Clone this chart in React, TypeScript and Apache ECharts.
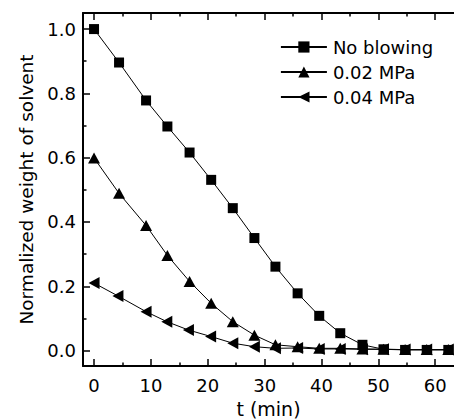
import React, { useEffect, useRef } from "react";
import * as echarts from "echarts";

const tNoBlow = [0, 4.4, 9.15, 12.9, 16.8, 20.6, 24.4, 28.2, 31.9, 35.8, 39.6, 43.3, 47.2, 50.9, 54.7, 58.5, 62.3];
const wNoBlow = [1.0, 0.896, 0.778, 0.697, 0.616, 0.531, 0.443, 0.35, 0.261, 0.178, 0.108, 0.054, 0.018, 0.004, 0.002, 0.002, 0.002];

const t002 = [0, 4.4, 9.15, 12.9, 16.8, 20.6, 24.4, 28.2, 31.9, 35.8, 39.6, 43.3, 47.2, 50.9, 54.7, 58.5, 62.3];
const w002 = [0.599, 0.489, 0.389, 0.296, 0.215, 0.147, 0.09, 0.048, 0.018, 0.012, 0.007, 0.007, 0.005, 0.004, 0.003, 0.003, 0.003];

const t004 = [0, 4.2, 9.15, 12.8, 16.6, 20.5, 24.4, 28.2, 31.9, 35.8, 39.6, 43.3, 47.2, 50.9, 54.7, 58.5, 62.3];
const w004 = [0.21, 0.17, 0.121, 0.09, 0.064, 0.044, 0.023, 0.012, 0.007, 0.008, 0.005, 0.005, 0.004, 0.004, 0.003, 0.003, 0.003];

const xMajor = [0, 10, 20, 30, 40, 50, 60];
const xMinor = [5, 15, 25, 35, 45, 55];
const yMajor = [0, 0.2, 0.4, 0.6, 0.8, 1.0];
const yMinor = [0.1, 0.3, 0.5, 0.7, 0.9];

const seriesNames = ["No blowing", "0.02 MPa", "0.04 MPa"];

const FONT = "'DejaVu Sans', sans-serif";
const X_MIN = -1.94;
const X_MAX = 63.3;
const Y_MIN = -0.048;
const Y_MAX = 1.05;

export default function App() {
  const ref = useRef<HTMLDivElement>(null);
  useEffect(() => {
    if (!ref.current) return;
    const chart = echarts.init(ref.current, null, { renderer: "svg" });
    const zip = (xs: number[], ys: number[]) => xs.map((x, i) => [x, ys[i]]);
    const gridBox = { left: 83, top: 13, right: 0, bottom: 53, containLabel: false, outerBoundsMode: "none" };
    const xAx = (grid: number, pos: "bottom" | "top", ticks: number[], len: number, labels: boolean, line: boolean) => ({
      type: "value",
      gridIndex: grid,
      position: pos,
      min: X_MIN,
      max: X_MAX,
      splitLine: { show: false },
      axisLine: { show: line, onZero: false, lineStyle: { color: "#000", width: 2 } },
      axisTick: { show: true, inside: true, length: len, customValues: ticks, lineStyle: { color: "#000", width: 1.5 } },
      axisLabel: {
        show: labels,
        customValues: ticks,
        color: "#000",
        fontSize: 18,
        fontFamily: FONT,
        margin: 10,
      },
      ...(labels
        ? {
            name: "t (min)",
            nameLocation: "middle",
            nameGap: 33,
            nameTextStyle: { color: "#000", fontSize: 19, fontFamily: FONT },
          }
        : {}),
    });
    const yAx = (grid: number, ticks: number[], len: number, labels: boolean, line: boolean) => ({
      type: "value",
      gridIndex: grid,
      position: "left",
      min: Y_MIN,
      max: Y_MAX,
      splitLine: { show: false },
      axisLine: { show: line, onZero: false, lineStyle: { color: "#000", width: 2 } },
      axisTick: { show: true, inside: true, length: len, customValues: ticks, lineStyle: { color: "#000", width: 1.5 } },
      axisLabel: {
        show: labels,
        customValues: ticks,
        color: "#000",
        fontSize: 18,
        fontFamily: FONT,
        margin: 7,
        formatter: (v: number) => v.toFixed(1),
      },
      ...(labels
        ? {
            name: "Normalized weight of solvent",
            nameLocation: "middle",
            nameGap: 47,
            nameTextStyle: { color: "#000", fontSize: 18.5, fontFamily: FONT },
          }
        : {}),
    });
    const lineSeries = (name: string, data: number[][], symbol: string, size: number[]) => ({
      name,
      type: "line",
      xAxisIndex: 0,
      yAxisIndex: 0,
      data,
      symbol,
      symbolSize: size,
      showAllSymbol: true,
      lineStyle: { color: "#000", width: 1 },
      itemStyle: { color: "#000" },
      emphasis: { disabled: true },
    });
    chart.setOption({
      animation: false,
      grid: [gridBox, { ...gridBox }],
      legend: {
        show: true,
        orient: "vertical",
        left: 275,
        top: 33,
        itemWidth: 46,
        itemHeight: 14,
        itemGap: 7,
        data: seriesNames,
        lineStyle: { width: 1.8 },
        textStyle: { color: "#000", fontSize: 18, fontFamily: FONT, padding: [0, 0, 0, 1] },
      },
      xAxis: [
        xAx(0, "bottom", xMajor, 7, true, true),
        xAx(0, "top", xMajor, 7, false, true),
        xAx(1, "bottom", xMinor, 3.5, false, false),
        xAx(1, "top", xMinor, 3.5, false, false),
      ],
      yAxis: [yAx(0, yMajor, 7, true, true), yAx(1, yMinor, 3.5, false, false)],
      series: [
        lineSeries(seriesNames[0], zip(tNoBlow, wNoBlow), "rect", [10, 10]),
        lineSeries(seriesNames[1], zip(t002, w002), "triangle", [12, 11]),
        lineSeries(seriesNames[2], zip(t004, w004), "path://M0,5 L10,0 L10,10 Z", [11, 12]),
      ],
    });
    return () => chart.dispose();
  }, []);
  return <div ref={ref} style={{ width: 454, height: 419, position: "absolute", left: 0, top: 0 }} />;
}
